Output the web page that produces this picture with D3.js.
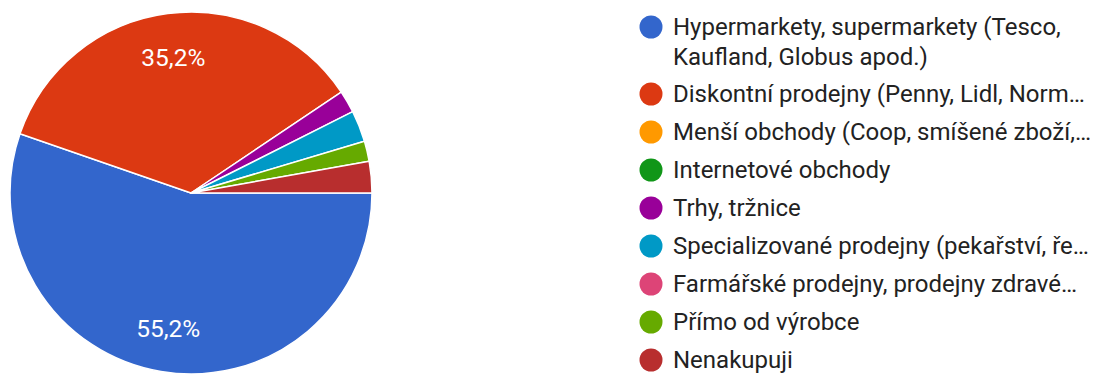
<!DOCTYPE html>
<html><head><meta charset="utf-8">
<script src="https://cdn.jsdelivr.net/npm/d3@7"></script>
<style>body{margin:0;background:#fff;} svg{display:block;}</style>
</head><body>
<svg id="c" width="1111" height="374"></svg>
<script>
const categories = [
  ["Hypermarkety, supermarkety (Tesco,", "Kaufland, Globus apod.)"],
  ["Diskontní prodejny (Penny, Lidl, Norm…"],
  ["Menší obchody (Coop, smíšené zboží,…"],
  ["Internetové obchody"],
  ["Trhy, tržnice"],
  ["Specializované prodejny (pekařství, ře…"],
  ["Farmářské prodejny, prodejny zdravé…"],
  ["Přímo od výrobce"],
  ["Nenakupuji"]
];
const values = [55.2, 35.2, 0, 0, 2.0, 2.8, 0, 1.8, 2.8];
const valueLabels = ["55,2%", "35,2%", "", "", "", "", "", "", ""];
const colors = ["#3366cc","#dc3912","#ff9900","#109618","#990099","#0099c6","#dd4477","#66aa00","#b82e2e"];

const svg = d3.select("#c");
const cx = 191, cy = 193, r = 181;
const pie = d3.pie().sort(null).value(d => d)
  .startAngle(Math.PI/2).endAngle(Math.PI/2 + 2*Math.PI);
const arcs = pie(values);
const arc = d3.arc().innerRadius(0).outerRadius(r);
const labelArc = d3.arc().innerRadius(137).outerRadius(137);
const g = svg.append("g").attr("transform", `translate(${cx},${cy})`);
g.selectAll("path").data(arcs.filter(a => a.value > 0)).join("path")
  .attr("d", arc)
  .attr("fill", d => colors[d.index])
  .attr("stroke", "#fff").attr("stroke-width", 1.5).attr("stroke-linejoin","round");
g.selectAll("text").data(arcs.filter(a => valueLabels[a.index])).join("text")
  .attr("transform", d => `translate(${labelArc.centroid(d)})`)
  .attr("text-anchor", "middle").attr("dy", "0.36em")
  .attr("fill", "#fff").attr("font-family", "Roboto, Arial, sans-serif")
  .attr("font-size", 24.5)
  .text(d => valueLabels[d.index]);

// legend
const lg = svg.append("g").attr("font-family", "Roboto, Arial, sans-serif").attr("font-size", 24).attr("fill", "#222");
let y = 35;
categories.forEach((lines, i) => {
  if (i === 1) y = 102;
  lg.append("circle").attr("cx", 651).attr("cy", y - 8).attr("r", 11.5).attr("fill", colors[i]);
  lines.forEach((t, j) => {
    lg.append("text").attr("x", 673).attr("y", y + j*30).text(t);
  });
  y += (lines.length - 1) * 30 + 38.0;
});
</script>
</body></html>
